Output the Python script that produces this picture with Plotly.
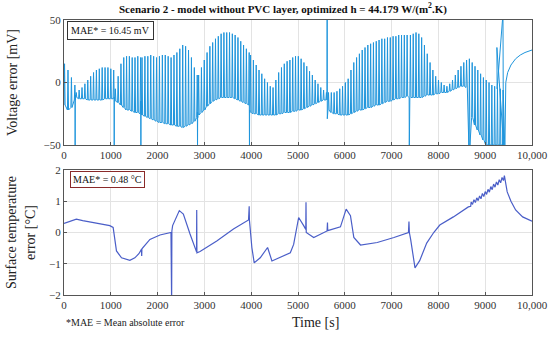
import numpy as np
import plotly.graph_objects as go

# ---------------- DATA ----------------
# Voltage error: pulsed segments (start, end) with per-pulse peak (upper) and rest (lower) values in mV
seg_bounds = [(0, 220), (250, 1050), (1085, 1625), (1655, 2835), (2865, 3945),
              (3975, 5595), (5640, 7320), (7390, 9370)]
seg_upper = [
    [15, 10, 4, -2],
    [-8, -6, -4, -1, 2, 5, 8, 10, 11, 12, 12, 12, 11, 10],
    [-5, 5, 15, 20, 21, 21, 20, 20, 21, 20],
    [20, 21, 21, 22, 21, 20, 21, 22, 22, 21, 20, 22, 24, 27, 30, 29, 26, 20, 12, 6],
    [6, 12, 18, 24, 29, 32, 35, 37, 39, 40, 40, 40, 39, 38, 36, 33, 30, 27, 24],
    [22, 18, 14, 10, 7, 3, 0, -3, -4, 2, 8, 12, 15, 17, 18, 20, 21, 21, 19, 16, 13, 9, 6, 2, -1, -4, -6, -8],
    [-8, -8, -8, -7, -5, -3, 0, 3, 10, 16, 20, 23, 26, 28, 30, 31, 32, 33, 34, 35, 35, 36, 36, 37, 37, 38, 38, 38, 38],
    [38, 39, 40, 39, 36, 30, 23, 16, 10, 5, 2, 0, -2, -3, -1, 2, 6, 10, 13, 16, 18, 19, 16, 13, 10, 7, 4, 2, 0, -2, -3, -4, -5, -6],
]
seg_lower = [
    [-18, -22, -20, -14],
    [-12, -13, -13, -13, -14, -14, -14, -14, -14, -14, -13, -13, -13, -13],
    [-15, -16, -18, -20, -22, -22, -23, -24, -24, -25],
    [-26, -27, -28, -29, -30, -31, -32, -32, -33, -33, -34, -34, -35, -35, -36, -35, -34, -33, -31, -28],
    [-26, -24, -22, -19, -17, -15, -14, -13, -12, -12, -12, -12, -12, -13, -14, -15, -16, -17, -18],
    [-24, -25, -25, -26, -26, -26, -26, -26, -26, -26, -25, -25, -24, -24, -24, -23, -23, -22, -22, -21, -20, -19, -18, -17, -16, -15, -14, -14],
    [-22, -24, -25, -25, -26, -26, -26, -26, -25, -24, -23, -22, -22, -21, -20, -20, -19, -18, -18, -17, -16, -15, -15, -14, -13, -13, -12, -12, -11],
    [-12, -12, -12, -12, -12, -11, -10, -10, -10, -9, -9, -8, -8, -8, -7, -6, -5, -4, -3, -3, -4, -50, -28, -34, -38, -42, -46, -50, -50, -50, -50, -50, -50, -50],
]
# isolated spikes after each segment (time s, value mV)
spike_t = [235, 1070, 1640, 2850, 3960, 5620, 7375]
spike_v = [-55, -55, -55, -55, -55, 55, -55]
spike_back = [-10, -12, -15, -24, -22, -29, -12]
# end of discharge spikes and relaxation
end_t = [9250, 9255, 9380, 9385, 9420, 9425, 9440, 9480, 9550, 9650, 9750, 9850, 9950, 10000]
end_v = [28, -5, 55, -6, -55, -3, 0, 8, 14, 19, 22, 24, 25.5, 26]

# Surface temperature error (°C)
temp_t = [0, 264, 400, 621, 800, 979, 1050, 1121, 1229, 1407, 1514, 1600, 1655, 1660, 1665, 1836, 2050, 2286,
          2300, 2305, 2321, 2464, 2550, 2693, 2800, 2832, 2836, 2840, 2907, 3264, 3621, 3943, 3957, 3962,
          4014, 4064, 4193, 4350, 4443, 4621, 4836, 4907, 5014, 5121, 5166, 5171, 5176, 5336, 5621, 5630, 5635,
          5907, 6029, 6121, 6193, 6336, 6693, 7050, 7360, 7371, 7380, 7407, 7500, 7600, 7750, 7900, 8030,
          8320, 8640, 8690, 8700, 8730, 8760, 8790, 8820, 8850, 8880, 8910, 8940, 8970, 9000, 9030, 9060,
          9090, 9120, 9150, 9180, 9210, 9240, 9270, 9300, 9330, 9360, 9390, 9410, 9470, 9550, 9650, 9800, 10000]
temp_v = [0.29, 0.43, 0.38, 0.32, 0.27, 0.22, 0.16, -0.59, -0.81, -0.89, -0.81, -0.68, -0.54, -0.75, -0.52, -0.22, -0.08, 0.0,
          -2.3, 0.05, 0.22, 0.70, 0.59, -0.05, -0.54, -0.62, 0.72, -0.65, -0.61, -0.27, 0.11, 0.40, 0.84, 0.40,
          -0.48, -0.97, -0.81, -0.48, -0.91, -0.78, -0.65, -0.38, 0.48, 0.22, 0.10, 0.97, 0.0, -0.16, 0.05, 0.32, 0.06,
          0.18, 0.75, 0.54, -0.16, -0.40, -0.32, -0.16, 0.0, 0.35, 0.0, -0.22, -1.13, -0.9, -0.34, 0.0, 0.24,
          0.5, 0.82, 0.84, 0.97, 0.90, 1.05, 0.96, 1.11, 1.02, 1.17, 1.08, 1.25, 1.15, 1.31, 1.22, 1.38,
          1.29, 1.47, 1.37, 1.55, 1.45, 1.62, 1.52, 1.69, 1.59, 1.76, 1.66, 1.82, 1.3, 1.0, 0.72, 0.5, 0.36]

x_tickvals = [0, 1000, 2000, 3000, 4000, 5000, 6000, 7000, 8000, 9000, 10000]
x_ticktext = ["0", "1000", "2000", "3000", "4000", "5000", "6000", "7000", "8000", "9000", "10,000"]

# ---------------- BUILD VOLTAGE TRACE ----------------
vx, vy = [], []
for k, ((a, b), up, lo) in enumerate(zip(seg_bounds, seg_upper, seg_lower)):
    ts = np.linspace(a, b, len(up))
    for t, u, l in zip(ts, up, lo):
        vx += [t, t + 12, t + 24]
        vy += [l, u, l]
    if k < len(spike_t):
        vx += [spike_t[k], spike_t[k] + 3, spike_t[k] + 6]
        vy += [spike_back[k], spike_v[k], spike_back[k]]
vx += end_t
vy += end_v

# ---------------- FIGURE ----------------
W, H = 550, 337
ml, mr, mt, mb = 64, 18, 20, 42
ph = H - mt - mb
pw = W - ml - mr
def py(p):
    return (H - mb - p) / ph
def px(p):
    return (p - ml) / pw

fig = go.Figure()
fig.add_trace(go.Scatter(x=vx, y=vy, mode="lines", line=dict(color="#1f95dc", width=1),
                         xaxis="x", yaxis="y", showlegend=False, hoverinfo="skip"))
fig.add_trace(go.Scatter(x=temp_t, y=temp_v, mode="lines", line=dict(color="#4a5ec8", width=1.2),
                         xaxis="x2", yaxis="y2", showlegend=False, hoverinfo="skip"))

font_serif = "Liberation Serif, DejaVu Serif, serif"
tickf = dict(family=font_serif, size=11, color="#333")
axcommon = dict(range=[0, 10000], tickvals=x_tickvals, ticktext=x_ticktext, showgrid=True,
                gridcolor="#e3e3e3", gridwidth=1, zeroline=False, showline=True, linecolor="#555",
                linewidth=1, mirror=True, ticks="inside", ticklen=3, tickcolor="#555",
                tickfont=tickf, automargin=False)
yaxcommon = dict(showgrid=True, gridcolor="#e3e3e3", zeroline=False, showline=True, linecolor="#555",
                 linewidth=1, mirror=True, ticks="inside", ticklen=3, tickcolor="#555",
                 tickfont=tickf, automargin=False)
fig.update_layout(
    template="none",
    width=W, height=H, margin=dict(l=ml, r=mr, t=mt, b=mb, autoexpand=False),
    paper_bgcolor="white", plot_bgcolor="white",
    font=dict(family=font_serif, color="#222"),
    xaxis=dict(domain=[0, 1], anchor="y", **axcommon),
    yaxis=dict(domain=[py(145), 1], anchor="x", range=[-50, 50], tickvals=[-50, 0, 50],
               title=dict(text="Voltage error [mV]", font=dict(size=14, color="#222"), standoff=22),
               **yaxcommon),
    xaxis2=dict(domain=[0, 1], anchor="y2", **axcommon),
    yaxis2=dict(domain=[0, py(170)], anchor="x2", range=[-2, 2], tickvals=[-2, -1, 0, 1, 2],
                title=dict(text="Surface temperature<br>error [°C]", font=dict(size=14, color="#222"), standoff=10),
                **yaxcommon),
)

ann = [
    dict(text="<b>Scenario 2 - model without PVC layer, optimized h = 44.179 W/(m<sup>2</sup>.K)</b>",
         x=px(283), y=py(9), font=dict(size=11, color="#111")),
    dict(text="Time [s]", x=px(315), y=py(322), font=dict(size=14, color="#222")),
    dict(text="*MAE = Mean absolute error", x=px(64), y=py(322), xanchor="left",
         font=dict(size=10, color="#222")),
    dict(text="MAE* = 16.45 mV", x=px(67), y=py(30.5), xanchor="left",
         font=dict(size=10, color="#111"), bordercolor="#333", borderwidth=1, borderpad=3, bgcolor="white"),
    dict(text="MAE* = 0.48 °C", x=px(70), y=py(179.5), xanchor="left",
         font=dict(size=10, color="#111"), bordercolor="#8a2a2a", borderwidth=1, borderpad=2, bgcolor="white"),
]
for a in ann:
    a["xref"] = "paper"
    a["yref"] = "paper"
    a["yanchor"] = "middle"
    a["showarrow"] = False
fig.update_layout(annotations=ann)

fig.write_html("out.html", config={"displayModeBar": False},
               post_script="document.body.style.margin='0';document.body.style.padding='0';")
